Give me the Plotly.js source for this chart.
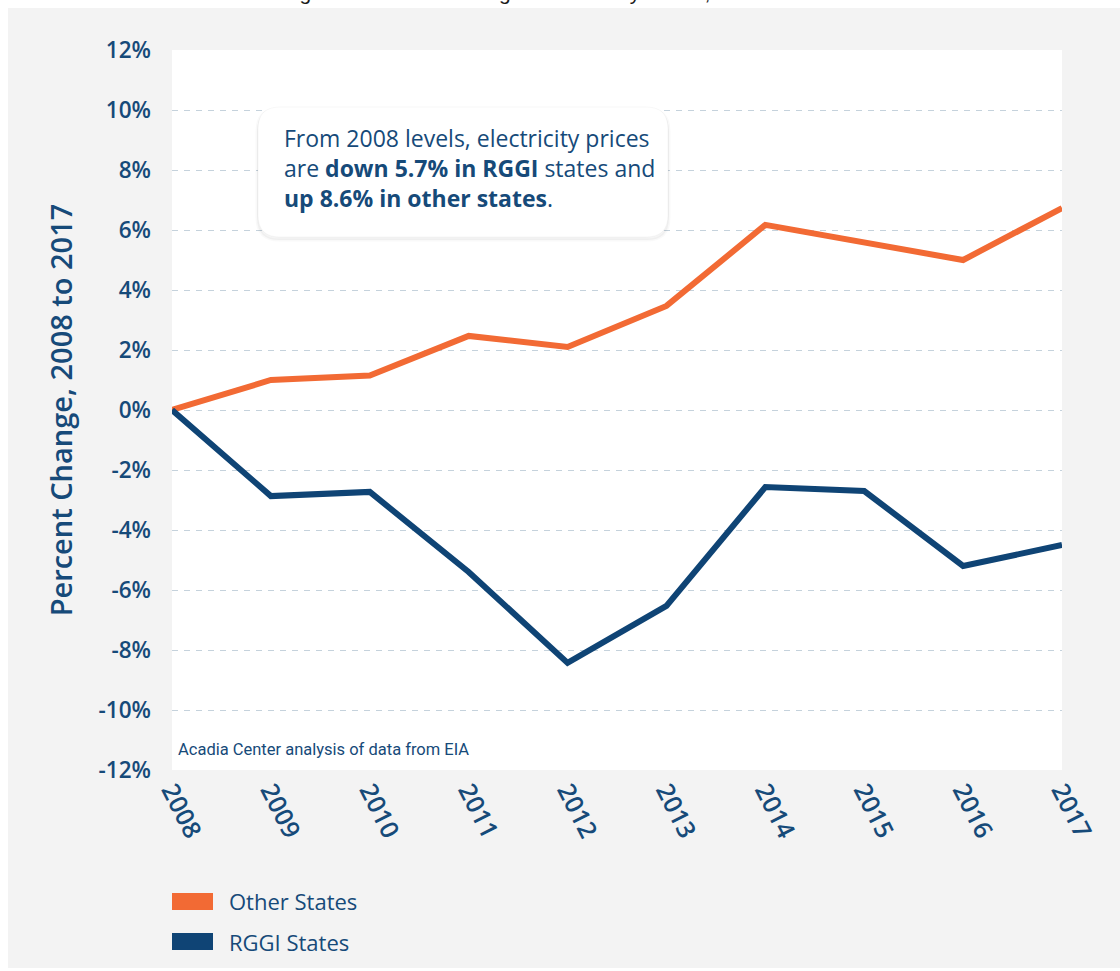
<!DOCTYPE html>
<html><head><meta charset="utf-8">
<script src="https://cdn.plot.ly/plotly-3.0.1.min.js"></script>
<style>html,body{margin:0;padding:0;background:#fff;}#chart{width:1120px;height:971px;}</style>
</head><body><div id="chart"></div>
<script>
// ---- data ----
const years = [2008, 2009, 2010, 2011, 2012, 2013, 2014, 2015, 2016, 2017];
const yearLabels = ['2008', '2009', '2010', '2011', '2012', '2013', '2014', '2015', '2016', '2017'];
const otherStates = [0, 1.0, 1.15, 2.47, 2.1, 3.47, 6.17, 5.6, 5.0, 6.73];
const rggiStates = [0, -2.87, -2.73, -5.4, -8.43, -6.53, -2.57, -2.7, -5.2, -4.5];
const seriesNames = ['Other States', 'RGGI States'];
const yTickVals = [-12, -10, -8, -6, -4, -2, 0, 2, 4, 6, 8, 10, 12];
const yTickText = ['-12%', '-10%', '-8%', '-6%', '-4%', '-2%', '0%', '2%', '4%', '6%', '8%', '10%', '12%'];
const figureTitle = 'Figure 3: Percent Change in Electricity Prices, 2008 to 2017';
const yAxisTitle = 'Percent Change, 2008 to 2017';
const sourceNote = 'Acadia Center analysis of data from EIA';
const calloutText = 'From 2008 levels, electricity prices<br>are <b>down 5.7% in RGGI</b> states and<br><b>up 8.6% in other states</b>.';

// ---- style ----
const ORANGE = '#f26a34';
const NAVY = '#0f4475';
const TEXT = '#164a79';
const FONT = 'Open Sans, Roboto, sans-serif';

// layout geometry (pixels)
const W = 1120, H = 971;
const M = {l: 172, r: 58, t: 50, b: 201};
const PW = W - M.l - M.r, PH = H - M.t - M.b;
const px = x => (x - M.l) / PW;          // pixel -> paper x
const py = y => (H - M.b - y) / PH;      // pixel -> paper y

function roundRect(x0, y0, x1, y1, r) {
  const X0 = px(x0), X1 = px(x1), Y0 = py(y1), Y1 = py(y0);
  const rx = r / PW, ry = r / PH;
  return `M${X0 + rx},${Y1} L${X1 - rx},${Y1} Q${X1},${Y1} ${X1},${Y1 - ry} L${X1},${Y0 + ry} Q${X1},${Y0} ${X1 - rx},${Y0} L${X0 + rx},${Y0} Q${X0},${Y0} ${X0},${Y0 + ry} L${X0},${Y1 - ry} Q${X0},${Y1} ${X0 + rx},${Y1} Z`;
}

const traces = [
  {x: years, y: otherStates, name: seriesNames[0], type: 'scatter', mode: 'lines',
   line: {color: ORANGE, width: 6}, cliponaxis: false},
  {x: years, y: rggiStates, name: seriesNames[1], type: 'scatter', mode: 'lines',
   line: {color: NAVY, width: 6}, cliponaxis: false}
];

const shapes = [
  // white outer strips (page edge)
  {type: 'rect', xref: 'paper', yref: 'paper', x0: -1, x1: 2, y0: py(8), y1: py(-20), fillcolor: '#ffffff', line: {width: 0}, layer: 'below'},
  {type: 'rect', xref: 'paper', yref: 'paper', x0: px(-20), x1: px(8), y0: py(1000), y1: py(-20), fillcolor: '#ffffff', line: {width: 0}, layer: 'below'},
  {type: 'rect', xref: 'paper', yref: 'paper', x0: -1, x1: 2, y0: py(1000), y1: py(968), fillcolor: '#ffffff', line: {width: 0}, layer: 'below'},
  // callout box shadow + box
  {type: 'path', xref: 'paper', yref: 'paper', path: roundRect(257, 109, 669, 240, 22), fillcolor: 'rgba(0,0,0,0.04)', line: {color: 'rgba(0,0,0,0.025)', width: 3}, layer: 'above'},
  {type: 'path', xref: 'paper', yref: 'paper', path: roundRect(258, 107, 668, 237, 22), fillcolor: '#ffffff', line: {color: 'rgba(0,0,0,0.03)', width: 1}, layer: 'above'},
  // legend swatches
  {type: 'rect', xref: 'paper', yref: 'paper', x0: px(172), x1: px(213), y0: py(910), y1: py(893), fillcolor: ORANGE, line: {width: 0}, layer: 'above'},
  {type: 'rect', xref: 'paper', yref: 'paper', x0: px(172), x1: px(213), y0: py(950), y1: py(933), fillcolor: NAVY, line: {width: 0}, layer: 'above'}
];

const annotations = [
  {xref: 'paper', yref: 'paper', x: px(560), y: 1, xanchor: 'center', yanchor: 'bottom', yshift: M.t - 6,
   text: figureTitle, showarrow: false, font: {family: 'Liberation Sans, Arial, sans-serif', size: 21, color: '#1a1a1a'}},
  {xref: 'paper', yref: 'paper', x: px(282), y: py(168), xanchor: 'left', yanchor: 'middle', align: 'left',
   text: calloutText, showarrow: false, font: {family: FONT, size: 23, color: TEXT}},
  {xref: 'paper', yref: 'paper', x: px(176), y: py(749), xanchor: 'left', yanchor: 'middle',
   text: sourceNote, showarrow: false, font: {family: 'Liberation Sans Narrow, Roboto, sans-serif', size: 16.5, color: TEXT}},
  {xref: 'paper', yref: 'paper', x: px(227), y: py(901), xanchor: 'left', yanchor: 'middle',
   text: seriesNames[0], showarrow: false, font: {family: FONT, size: 22, color: TEXT}},
  {xref: 'paper', yref: 'paper', x: px(227), y: py(942), xanchor: 'left', yanchor: 'middle',
   text: seriesNames[1], showarrow: false, font: {family: FONT, size: 22, color: TEXT}}
];

const layout = {
  width: W, height: H,
  margin: M,
  paper_bgcolor: '#f3f3f3',
  plot_bgcolor: '#ffffff',
  showlegend: false,
  font: {family: FONT, color: TEXT},
  xaxis: {
    range: [2008, 2017], tickmode: 'array', tickvals: years, ticktext: yearLabels,
    tickangle: 63, showgrid: false, zeroline: false, showline: false, ticks: '',
    tickfont: {family: FONT, size: 25, weight: 600, color: TEXT}, automargin: false, fixedrange: true
  },
  yaxis: {
    range: [-12, 12], tickmode: 'array', tickvals: yTickVals, ticktext: yTickText,
    showgrid: true, gridcolor: '#c5d2dc', gridwidth: 1, griddash: '6px,6px',
    zeroline: false, showline: false, ticks: '', ticklabelstandoff: 20,
    tickfont: {family: FONT, size: 22.5, weight: 600, color: TEXT}, automargin: false, fixedrange: true,
    title: {text: yAxisTitle, font: {family: FONT, size: 29, weight: 600, color: TEXT}, standoff: 17}
  },
  shapes: shapes,
  annotations: annotations
};

Plotly.newPlot('chart', traces, layout, {staticPlot: true, displayModeBar: false});
</script>
</body></html>
